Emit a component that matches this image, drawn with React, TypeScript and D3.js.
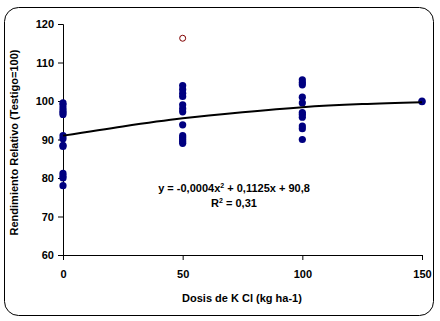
import * as d3 from "d3";
import { useEffect, useRef } from "react";

const dose0 = [99.5, 99, 98.2, 97.5, 97, 96.5, 91, 90.2, 88.5, 88.2, 81.2, 80.5, 80, 78];
const dose50 = [104, 103, 102, 101.2, 99, 98, 97.2, 93.8, 91, 90.5, 90, 89.5, 89];
const dose100 = [105.5, 104.8, 104.2, 101, 99.5, 97, 96.5, 95.8, 93.5, 92.8, 90];
const dose150 = [100, 99.8];
const outliers = [{ x: 50, y: 116.3 }];
const trendX = [0, 25, 50, 75, 100, 125, 150];
const trendY = [91, 93.4, 95.5, 97.1, 98.4, 99.2, 99.7];
const yTicks = [60, 70, 80, 90, 100, 110, 120];
const xTicks = [0, 50, 100, 150];

const points = [
  ...dose0.map((y) => ({ x: 0, y })),
  ...dose50.map((y) => ({ x: 50, y })),
  ...dose100.map((y) => ({ x: 100, y })),
  ...dose150.map((y) => ({ x: 150, y })),
];

export default function App() {
  const svgRef = useRef<SVGSVGElement>(null);

  useEffect(() => {
    if (!svgRef.current) return;
    const width = 440;
    const height = 321;
    const margin = { top: 24, right: 18, bottom: 66, left: 63 };

    const svg = d3.select(svgRef.current);
    svg.selectAll("*").remove();

    svg
      .append("rect")
      .attr("x", 4.5)
      .attr("y", 7.5)
      .attr("width", 429)
      .attr("height", 308)
      .attr("rx", 14)
      .attr("fill", "#fff")
      .attr("stroke", "#000")
      .attr("stroke-width", 1);

    const x = d3.scaleLinear().domain([0, 150]).range([margin.left, width - margin.right]);
    const y = d3.scaleLinear().domain([60, 120]).range([height - margin.bottom, margin.top]);

    const font = "Arial, 'Liberation Sans', sans-serif";

    svg
      .append("g")
      .attr("transform", `translate(${margin.left},0)`)
      .call(d3.axisLeft(y).tickValues(yTicks).tickSize(5).tickPadding(4))
      .call((g) => g.selectAll("path,line").attr("stroke", "#000"))
      .selectAll("text")
      .style("font-family", font)
      .style("font-size", "11px")
      .style("font-weight", "bold")
      .attr("fill", "#000");

    svg
      .append("g")
      .attr("transform", `translate(0,${height - margin.bottom})`)
      .call(d3.axisBottom(x).tickValues(xTicks).tickSize(5).tickPadding(10))
      .call((g) => g.selectAll("path,line").attr("stroke", "#000"))
      .selectAll("text")
      .style("font-family", font)
      .style("font-size", "11px")
      .style("font-weight", "bold")
      .attr("fill", "#000");

    const line = d3
      .line<number>()
      .x((_, i) => x(trendX[i]))
      .y((d) => y(d))
      .curve(d3.curveMonotoneX);

    svg
      .append("g")
      .selectAll("circle.pt")
      .data(points)
      .join("circle")
      .attr("class", "pt")
      .attr("cx", (d) => x(d.x))
      .attr("cy", (d) => y(d.y))
      .attr("r", 3.6)
      .attr("fill", "#000080");

    svg
      .append("path")
      .datum(trendY)
      .attr("d", line)
      .attr("fill", "none")
      .attr("stroke", "#000")
      .attr("stroke-width", 2);

    svg
      .append("g")
      .selectAll("circle.out")
      .data(outliers)
      .join("circle")
      .attr("class", "out")
      .attr("cx", (d) => x(d.x))
      .attr("cy", (d) => y(d.y))
      .attr("r", 3)
      .attr("fill", "none")
      .attr("stroke", "#800000")
      .attr("stroke-width", 1);

    const eq = svg
      .append("text")
      .attr("x", 234)
      .attr("y", 192)
      .attr("text-anchor", "middle")
      .style("font-family", font)
      .style("font-size", "11px")
      .style("font-weight", "bold");
    eq.append("tspan").text("y = -0,0004x");
    eq.append("tspan").attr("dy", -4).style("font-size", "7px").text("2");
    eq.append("tspan").attr("dy", 4).text(" + 0,1125x + 90,8");

    const r2 = svg
      .append("text")
      .attr("x", 234)
      .attr("y", 207)
      .attr("text-anchor", "middle")
      .style("font-family", font)
      .style("font-size", "11px")
      .style("font-weight", "bold");
    r2.append("tspan").text("R");
    r2.append("tspan").attr("dy", -4).style("font-size", "7px").text("2");
    r2.append("tspan").attr("dy", 4).text(" = 0,31");

    svg
      .append("text")
      .attr("x", 242)
      .attr("y", 302)
      .attr("text-anchor", "middle")
      .style("font-family", font)
      .style("font-size", "11px")
      .style("font-weight", "bold")
      .text("Dosis de K Cl (kg ha-1)");

    svg
      .append("text")
      .attr("transform", `translate(18,${(margin.top + height - margin.bottom) / 2 + 3}) rotate(-90)`)
      .attr("text-anchor", "middle")
      .style("font-family", font)
      .style("font-size", "11px")
      .style("font-weight", "bold")
      .text("Rendimiento Relativo (Testigo=100)");
  }, []);

  return <svg ref={svgRef} width={440} height={321} style={{ position: "absolute", left: 0, top: 0 }} />;
}
